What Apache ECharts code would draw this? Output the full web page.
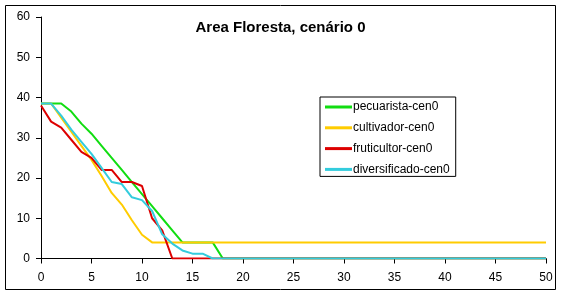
<!DOCTYPE html>
<html>
<head>
<meta charset="utf-8">
<script src="https://cdn.jsdelivr.net/npm/echarts@6/dist/echarts.min.js"></script>
<style>
html,body{margin:0;padding:0;background:#fff;}
#c{width:561px;height:294px;}
</style>
</head>
<body>
<div id="c"></div>
<script>
var years = [0,1,2,3,4,5,6,7,8,9,10,11,12,13,14,15,16,17,18,19,20,21,22,23,24,25,26,27,28,29,30,31,32,33,34,35,36,37,38,39,40,41,42,43,44,45,46,47,48,49,50];
var pecuarista = [38.5,38.5,38.5,36.5,33.5,31,28,25,22,19,16,13,10,7,4,4,4,4,0,0,0,0,0,0,0,0,0,0,0,0,0,0,0,0,0,0,0,0,0,0,0,0,0,0,0,0,0,0,0,0,0];
var cultivador = [38.5,38.5,35,31.5,28,24.5,20.5,16.3,13.4,9.5,5.9,4,4,4,4,4,4,4,4,4,4,4,4,4,4,4,4,4,4,4,4,4,4,4,4,4,4,4,4,4,4,4,4,4,4,4,4,4,4,4,4];
var fruticultor = [38,34,32.5,29.5,26.5,25,22,22,19,19,18,10,7,0,0,0,0,0,0,0,0,0,0,0,0,0,0,0,0,0,0,0,0,0,0,0,0,0,0,0,0,0,0,0,0,0,0,0,0,0,0];
var diversificado = [38.5,38.5,35.5,32,29,26,22.5,19,18.5,15.2,14.5,11.8,6,3.7,2,1.2,1.2,0,0,0,0,0,0,0,0,0,0,0,0,0,0,0,0,0,0,0,0,0,0,0,0,0,0,0,0,0,0,0,0,0,0];
var seriesNames = ['pecuarista-cen0','cultivador-cen0','fruticultor-cen0','diversificado-cen0'];
var seriesColors = ['#11dd11','#ffcc00','#dd0000','#33ccdd'];
var seriesValues = [pecuarista, cultivador, fruticultor, diversificado];

function pairs(vals){ return years.map(function(x,i){ return [x, vals[i]]; }); }

var font = 'Liberation Sans, Arial, sans-serif';
var chart = echarts.init(document.getElementById('c'), null, {renderer:'canvas'});
chart.setOption({
  animation: false,
  backgroundColor: '#fff',
  title: {
    text: 'Area Floresta, cenário 0',
    left: 'center',
    top: 15,
    textStyle: {fontFamily: font, fontSize: 15, fontWeight: 'bold', color: '#000'}
  },
  legend: {
    orient: 'vertical',
    left: 320,
    top: 97,
    padding: [3,6,0,5],
    borderColor: '#000',
    borderWidth: 1,
    backgroundColor: '#fff',
    itemWidth: 27,
    itemHeight: 3,
    itemGap: 6.8,
    icon: 'rect',
    data: seriesNames,
    textStyle: {fontFamily: font, fontSize: 12, color: '#000', lineHeight: 14, padding: [0,0,0,-4]}
  },
  grid: {left: 41, right: 15, top: 17, bottom: 35.5, containLabel: false},
  xAxis: {
    type: 'value', min: 0, max: 50, interval: 5,
    axisLine: {show: true, lineStyle: {color: '#000', width: 1}},
    axisTick: {show: true, length: 5, lineStyle: {color: '#000'}},
    axisLabel: {fontFamily: font, fontSize: 12, color: '#000', margin: 13},
    splitLine: {show: false}
  },
  yAxis: {
    type: 'value', min: 0, max: 60, interval: 10,
    axisLine: {show: true, lineStyle: {color: '#000', width: 1}},
    axisTick: {show: true, length: 5, lineStyle: {color: '#000'}},
    axisLabel: {fontFamily: font, fontSize: 12, color: '#000', margin: 11},
    splitLine: {show: false}
  },
  graphic: [{
    type: 'rect', silent: true, z: -1,
    shape: {x: 5.5, y: 5.5, width: 550, height: 284},
    style: {fill: 'none', stroke: '#000', lineWidth: 1}
  }],
  series: seriesNames.map(function(n, i){
    return {
      name: n, type: 'line', data: pairs(seriesValues[i]),
      showSymbol: false, symbol: 'none',
      color: seriesColors[i],
      lineStyle: {width: 2, color: seriesColors[i]}
    };
  })
});
</script>
</body>
</html>
